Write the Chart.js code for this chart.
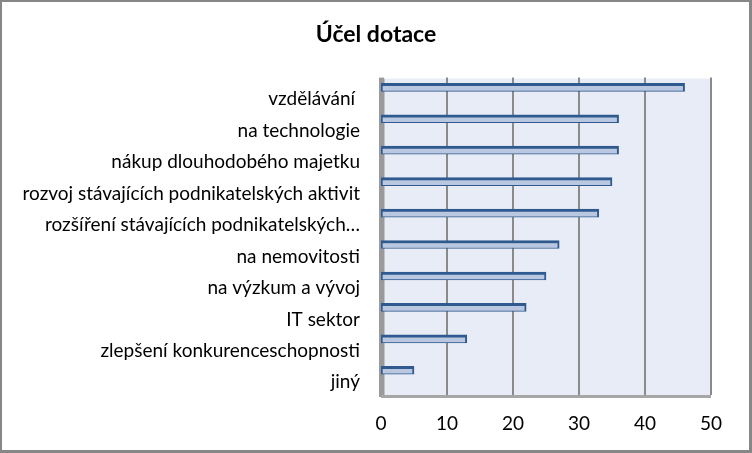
<!DOCTYPE html>
<html>
<head>
<meta charset="utf-8">
<script src="https://cdn.jsdelivr.net/npm/chart.js@4.4.0/dist/chart.umd.min.js"></script>
<style>
  html, body { margin: 0; padding: 0; background: #fff; }
  #wrap { position: relative; width: 752px; height: 453px; }
  #frame { position: absolute; left: 0; top: 0; width: 752px; height: 453px; box-sizing: border-box;
           border: 2px solid #878787; border-right-width: 3px; border-bottom-width: 3px; pointer-events: none; }
</style>
</head>
<body>
<div id="wrap">
  <canvas id="chart" width="752" height="453"></canvas>
  <div id="frame"></div>
</div>
<script>
// Účel dotace - data
var categories = [
    'vzdělávání ',
    'na technologie',
    'nákup dlouhodobého majetku',
    'rozvoj stávajících podnikatelských aktivit',
    'rozšíření stávajících podnikatelských…',
    'na nemovitosti',
    'na výzkum a vývoj',
    'IT sektor',
    'zlepšení konkurenceschopnosti',
    'jiný'
];
var values = [46, 36, 36, 35, 33, 27, 25, 22, 13, 5];
var xMin = 0;
var xMax = 50;
var xStep = 10;

var FONT = 'Lato, "Open Sans", sans-serif';

// fake 3D walls: background, gridlines, left wall and floor
var plotBackground = {
    id: 'plotBackground',
    beforeDatasetsDraw: function(chart) {
        var ctx = chart.ctx;
        var area = chart.chartArea;
        var x = chart.scales.x;
        var top = area.top + 7;
        var bottom = area.bottom + 9;
        var left = x.getPixelForValue(xMin);
        var right = x.getPixelForValue(xMax);

        ctx.save();
        ctx.fillStyle = '#E8ECF6';
        ctx.fillRect(left + 4, top, right - left - 4, bottom - top);

        ctx.strokeStyle = '#8A8A8A';
        ctx.lineWidth = 2;
        x.ticks.forEach(function(t) {
            if (t.value === xMin) return;
            var px = Math.round(x.getPixelForValue(t.value));
            ctx.beginPath();
            ctx.moveTo(px, top - 1);
            ctx.lineTo(px, bottom);
            ctx.stroke();
        });

        // left wall
        ctx.fillStyle = '#9A9A9A';
        ctx.fillRect(left - 2, top - 1, 5, bottom - top + 3);
        ctx.fillStyle = '#C4C4C4';
        ctx.fillRect(left + 3, top, 1, bottom - top);
        // floor
        ctx.fillStyle = '#A6A6A6';
        ctx.fillRect(left, bottom, right - left, 3);
        ctx.restore();
    }
};

var ctx = document.getElementById('chart').getContext('2d');
var chart = new Chart(ctx, {
    type: 'bar',
    data: {
        labels: categories,
        datasets: [{
            data: values,
            backgroundColor: '#BAC7E0',
            borderColor: '#2F5A90',
            borderWidth: { top: 3, bottom: 1, left: 2, right: 2 },
            borderSkipped: false,
            barThickness: 8
        }]
    },
    plugins: [plotBackground],
    options: {
        indexAxis: 'y',
        responsive: false,
        animation: false,
        layout: {
            padding: 0
        },
        plugins: {
            legend: { display: false },
            tooltip: { enabled: false },
            title: {
                display: true,
                text: 'Účel dotace',
                color: '#000',
                font: { family: FONT, size: 23, weight: 'bold' },
                padding: { top: 21, bottom: 23 }
            }
        },
        scales: {
            x: {
                min: xMin,
                max: xMax,
                grid: { display: false, drawTicks: false },
                border: { display: false },
                ticks: {
                    stepSize: xStep,
                    color: '#000',
                    padding: 26,
                    font: { family: FONT, size: 19 }
                },
                afterFit: function(scale) { scale.height = 67; }
            },
            y: {
                grid: { display: false, drawTicks: false },
                border: { display: false },
                ticks: {
                    color: '#000',
                    padding: 21,
                    labelOffset: 12,
                    autoSkip: false,
                    font: { family: FONT, size: 19 }
                },
                afterFit: function(scale) { scale.width = 381; }
            },
            // empty spacer on the right so the title stays centred on the page
            yRight: {
                type: 'category',
                position: 'right',
                grid: { display: false, drawTicks: false },
                border: { display: false },
                ticks: { display: false },
                afterFit: function(scale) { scale.width = 41; }
            }
        }
    }
});
</script>
</body>
</html>
